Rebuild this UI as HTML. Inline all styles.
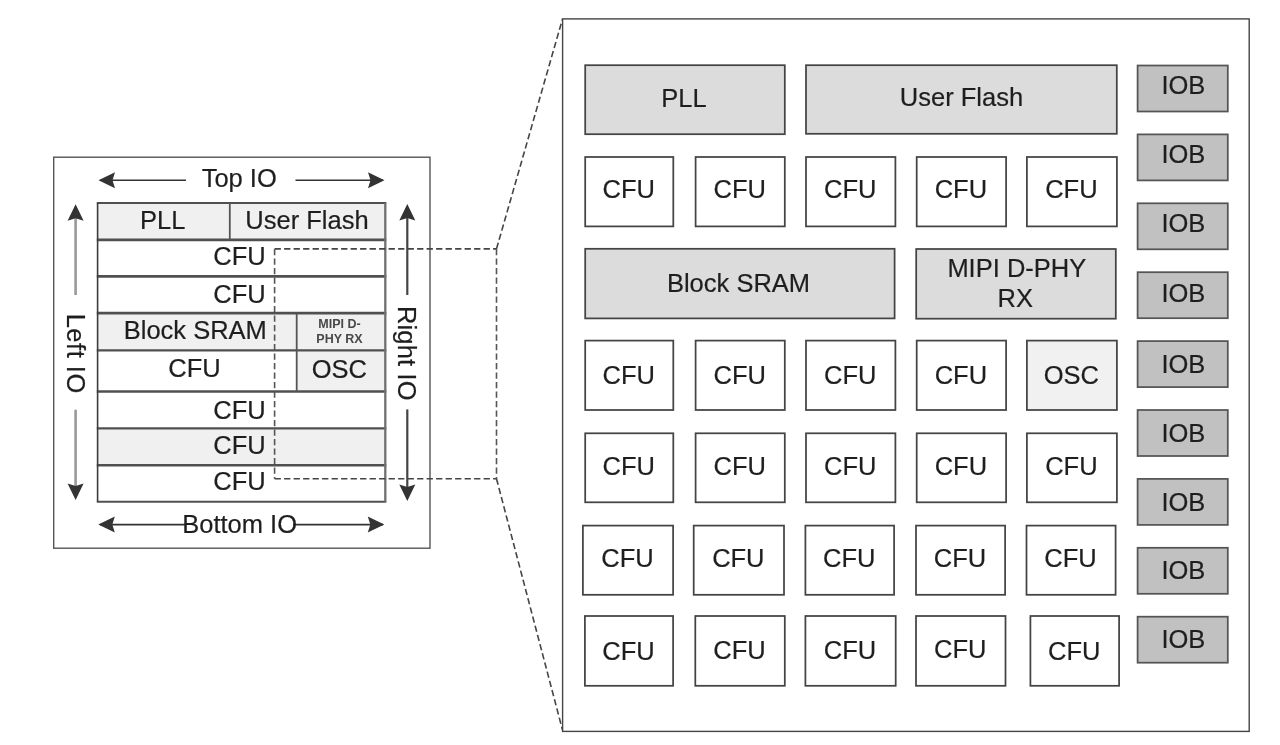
<!DOCTYPE html>
<html><head><meta charset="utf-8"><title>Diagram</title>
<style>
html,body{margin:0;padding:0;background:#fff;}
body{width:1280px;height:745px;overflow:hidden;}
svg{display:block;font-family:"Liberation Sans", sans-serif;will-change:transform;}
</style></head>
<body>
<svg width="1280" height="745" viewBox="0 0 1280 745">
<rect x="0" y="0" width="1280" height="745" fill="#fff"/>
<rect x="53.70" y="157.20" width="376.30" height="391.00" fill="#fff" stroke="#555" stroke-width="1.4"/>
<rect x="97.60" y="202.90" width="287.70" height="37.00" fill="#f0f0f0" stroke="none" stroke-width="0"/>
<rect x="97.60" y="313.10" width="287.70" height="37.20" fill="#f0f0f0" stroke="none" stroke-width="0"/>
<rect x="296.70" y="350.30" width="88.60" height="41.10" fill="#f0f0f0" stroke="none" stroke-width="0"/>
<rect x="97.60" y="428.40" width="287.70" height="36.80" fill="#f0f0f0" stroke="none" stroke-width="0"/>
<line x1="96.80" y1="202.90" x2="386.30" y2="202.90" stroke="#505050" stroke-width="2.0"/>
<line x1="96.80" y1="239.90" x2="386.30" y2="239.90" stroke="#505050" stroke-width="2.8"/>
<line x1="96.80" y1="276.40" x2="386.30" y2="276.40" stroke="#505050" stroke-width="2.6"/>
<line x1="96.80" y1="313.10" x2="386.30" y2="313.10" stroke="#505050" stroke-width="2.8"/>
<line x1="96.80" y1="350.30" x2="386.30" y2="350.30" stroke="#505050" stroke-width="2.2"/>
<line x1="96.80" y1="391.40" x2="386.30" y2="391.40" stroke="#505050" stroke-width="2.5"/>
<line x1="96.80" y1="428.40" x2="386.30" y2="428.40" stroke="#505050" stroke-width="2.4"/>
<line x1="96.80" y1="465.20" x2="386.30" y2="465.20" stroke="#505050" stroke-width="2.4"/>
<line x1="96.80" y1="501.80" x2="386.30" y2="501.80" stroke="#505050" stroke-width="2.0"/>
<line x1="97.60" y1="202.90" x2="97.60" y2="501.80" stroke="#3c3c3c" stroke-width="1.6"/>
<line x1="385.30" y1="202.90" x2="385.30" y2="501.80" stroke="#707070" stroke-width="2.3"/>
<line x1="229.80" y1="202.90" x2="229.80" y2="239.90" stroke="#555" stroke-width="1.8"/>
<line x1="296.70" y1="313.10" x2="296.70" y2="391.40" stroke="#555" stroke-width="1.8"/>
<text x="162.80" y="228.50" font-size="25.5" fill="#1e1e1e" text-anchor="middle" stroke="#1e1e1e" stroke-width="0.2">PLL</text>
<text x="307.00" y="229.00" font-size="25.5" fill="#1e1e1e" text-anchor="middle" stroke="#1e1e1e" stroke-width="0.2">User Flash</text>
<text x="239.50" y="264.80" font-size="25.5" fill="#1e1e1e" text-anchor="middle" stroke="#1e1e1e" stroke-width="0.2">CFU</text>
<text x="239.50" y="302.70" font-size="25.5" fill="#1e1e1e" text-anchor="middle" stroke="#1e1e1e" stroke-width="0.2">CFU</text>
<text x="239.50" y="418.50" font-size="25.5" fill="#1e1e1e" text-anchor="middle" stroke="#1e1e1e" stroke-width="0.2">CFU</text>
<text x="239.50" y="454.20" font-size="25.5" fill="#1e1e1e" text-anchor="middle" stroke="#1e1e1e" stroke-width="0.2">CFU</text>
<text x="239.50" y="490.30" font-size="25.5" fill="#1e1e1e" text-anchor="middle" stroke="#1e1e1e" stroke-width="0.2">CFU</text>
<text x="195.30" y="339.20" font-size="25.5" fill="#1e1e1e" text-anchor="middle" stroke="#1e1e1e" stroke-width="0.2">Block SRAM</text>
<text x="194.50" y="377.30" font-size="25.5" fill="#1e1e1e" text-anchor="middle" stroke="#1e1e1e" stroke-width="0.2">CFU</text>
<text x="339.30" y="378.00" font-size="25.5" fill="#1e1e1e" text-anchor="middle" stroke="#1e1e1e" stroke-width="0.2">OSC</text>
<text x="339.50" y="327.50" font-size="12.5" fill="#484848" text-anchor="middle" font-weight="bold">MIPI D-</text>
<text x="339.50" y="343.30" font-size="12.5" fill="#484848" text-anchor="middle" font-weight="bold">PHY RX</text>
<line x1="100.00" y1="180.20" x2="186.00" y2="180.20" stroke="#333" stroke-width="1.6"/>
<polygon points="98.50,180.20 115.00,188.20 112.50,180.20 115.00,172.20" fill="#333"/>
<line x1="295.50" y1="180.20" x2="383.00" y2="180.20" stroke="#333" stroke-width="1.6"/>
<polygon points="384.50,180.20 368.00,188.20 370.50,180.20 368.00,172.20" fill="#333"/>
<text x="239.20" y="186.60" font-size="25.5" fill="#1e1e1e" text-anchor="middle" stroke="#1e1e1e" stroke-width="0.2">Top IO</text>
<line x1="100.00" y1="524.60" x2="186.00" y2="524.60" stroke="#333" stroke-width="1.6"/>
<polygon points="98.30,524.60 114.80,532.60 112.30,524.60 114.80,516.60" fill="#333"/>
<line x1="293.00" y1="524.60" x2="383.00" y2="524.60" stroke="#333" stroke-width="1.6"/>
<polygon points="384.30,524.60 367.80,532.60 370.30,524.60 367.80,516.60" fill="#333"/>
<text x="239.60" y="532.70" font-size="25.5" fill="#1e1e1e" text-anchor="middle" stroke="#1e1e1e" stroke-width="0.2">Bottom IO</text>
<line x1="75.60" y1="210.00" x2="75.60" y2="295.00" stroke="#999" stroke-width="2.6"/>
<polygon points="75.60,204.30 83.60,220.80 75.60,218.30 67.60,220.80" fill="#333"/>
<line x1="75.60" y1="409.70" x2="75.60" y2="490.00" stroke="#999" stroke-width="2.6"/>
<polygon points="75.60,500.00 83.60,483.50 75.60,486.00 67.60,483.50" fill="#333"/>
<text x="0" y="0" font-size="25.5" fill="#1e1e1e" stroke="#1e1e1e" stroke-width="0.2" letter-spacing="0.5" text-anchor="middle" transform="translate(66.7,353.7) rotate(90)">Left IO</text>
<line x1="407.30" y1="210.00" x2="407.30" y2="295.00" stroke="#444" stroke-width="2.2"/>
<polygon points="407.30,203.90 415.30,220.40 407.30,217.90 399.30,220.40" fill="#333"/>
<line x1="407.30" y1="409.40" x2="407.30" y2="490.00" stroke="#444" stroke-width="2.2"/>
<polygon points="407.30,501.00 415.30,484.50 407.30,487.00 399.30,484.50" fill="#333"/>
<text x="0" y="0" font-size="25.5" fill="#1e1e1e" stroke="#1e1e1e" stroke-width="0.2" letter-spacing="0.15" text-anchor="middle" transform="translate(398.4,353.3) rotate(90)">Right IO</text>
<line x1="274.60" y1="248.90" x2="496.50" y2="248.90" stroke="#454545" stroke-width="1.6" stroke-dasharray="6.3,3.2"/>
<line x1="274.60" y1="478.70" x2="496.50" y2="478.70" stroke="#454545" stroke-width="1.6" stroke-dasharray="6.3,3.2"/>
<line x1="274.60" y1="248.90" x2="274.60" y2="478.70" stroke="#555" stroke-width="1.6" stroke-dasharray="6.3,3.2"/>
<line x1="496.50" y1="248.90" x2="496.50" y2="478.70" stroke="#555" stroke-width="1.6" stroke-dasharray="6.3,3.2"/>
<line x1="496.50" y1="248.90" x2="562.50" y2="19.00" stroke="#454545" stroke-width="1.6" stroke-dasharray="6.3,3.2"/>
<line x1="496.50" y1="478.70" x2="562.50" y2="730.00" stroke="#454545" stroke-width="1.6" stroke-dasharray="6.3,3.2"/>
<rect x="562.60" y="18.90" width="686.60" height="712.50" fill="#fff" stroke="#444" stroke-width="1.4"/>
<rect x="585.20" y="65.20" width="199.60" height="69.00" fill="#dcdcdc" stroke="#444" stroke-width="1.75"/>
<text x="684.00" y="106.60" font-size="25.5" fill="#1e1e1e" text-anchor="middle" stroke="#1e1e1e" stroke-width="0.2">PLL</text>
<rect x="806.00" y="65.20" width="310.80" height="68.60" fill="#dcdcdc" stroke="#444" stroke-width="1.75"/>
<text x="961.50" y="106.30" font-size="25.5" fill="#1e1e1e" text-anchor="middle" stroke="#1e1e1e" stroke-width="0.2">User Flash</text>
<rect x="585.20" y="157.00" width="88.10" height="69.40" fill="#fff" stroke="#444" stroke-width="1.75"/>
<text x="628.75" y="197.70" font-size="25.5" fill="#1e1e1e" text-anchor="middle" stroke="#1e1e1e" stroke-width="0.2">CFU</text>
<rect x="695.60" y="157.00" width="89.20" height="69.40" fill="#fff" stroke="#444" stroke-width="1.75"/>
<text x="739.70" y="197.70" font-size="25.5" fill="#1e1e1e" text-anchor="middle" stroke="#1e1e1e" stroke-width="0.2">CFU</text>
<rect x="806.00" y="157.00" width="89.40" height="69.40" fill="#fff" stroke="#444" stroke-width="1.75"/>
<text x="850.20" y="197.70" font-size="25.5" fill="#1e1e1e" text-anchor="middle" stroke="#1e1e1e" stroke-width="0.2">CFU</text>
<rect x="916.70" y="157.00" width="89.40" height="69.40" fill="#fff" stroke="#444" stroke-width="1.75"/>
<text x="960.90" y="197.70" font-size="25.5" fill="#1e1e1e" text-anchor="middle" stroke="#1e1e1e" stroke-width="0.2">CFU</text>
<rect x="1026.90" y="157.00" width="90.00" height="69.40" fill="#fff" stroke="#444" stroke-width="1.75"/>
<text x="1071.40" y="197.70" font-size="25.5" fill="#1e1e1e" text-anchor="middle" stroke="#1e1e1e" stroke-width="0.2">CFU</text>
<rect x="585.20" y="248.80" width="309.40" height="69.60" fill="#dcdcdc" stroke="#444" stroke-width="1.75"/>
<text x="738.50" y="291.90" font-size="25.5" fill="#1e1e1e" text-anchor="middle" stroke="#1e1e1e" stroke-width="0.2">Block SRAM</text>
<rect x="916.20" y="249.00" width="199.60" height="69.70" fill="#dcdcdc" stroke="#444" stroke-width="1.75"/>
<text x="1016.80" y="276.60" font-size="25.5" fill="#1e1e1e" text-anchor="middle" stroke="#1e1e1e" stroke-width="0.2">MIPI D-PHY</text>
<text x="1015.30" y="306.50" font-size="25.5" fill="#1e1e1e" text-anchor="middle" stroke="#1e1e1e" stroke-width="0.2">RX</text>
<rect x="585.20" y="340.60" width="88.10" height="69.40" fill="#fff" stroke="#444" stroke-width="1.75"/>
<text x="628.75" y="383.50" font-size="25.5" fill="#1e1e1e" text-anchor="middle" stroke="#1e1e1e" stroke-width="0.2">CFU</text>
<rect x="695.60" y="340.60" width="89.20" height="69.40" fill="#fff" stroke="#444" stroke-width="1.75"/>
<text x="739.70" y="383.50" font-size="25.5" fill="#1e1e1e" text-anchor="middle" stroke="#1e1e1e" stroke-width="0.2">CFU</text>
<rect x="806.00" y="340.60" width="89.40" height="69.40" fill="#fff" stroke="#444" stroke-width="1.75"/>
<text x="850.20" y="383.50" font-size="25.5" fill="#1e1e1e" text-anchor="middle" stroke="#1e1e1e" stroke-width="0.2">CFU</text>
<rect x="916.70" y="340.60" width="89.40" height="69.40" fill="#fff" stroke="#444" stroke-width="1.75"/>
<text x="960.90" y="383.50" font-size="25.5" fill="#1e1e1e" text-anchor="middle" stroke="#1e1e1e" stroke-width="0.2">CFU</text>
<rect x="1026.90" y="340.60" width="90.00" height="69.40" fill="#f1f1f1" stroke="#444" stroke-width="1.75"/>
<text x="1071.40" y="383.50" font-size="25.5" fill="#1e1e1e" text-anchor="middle" stroke="#1e1e1e" stroke-width="0.2">OSC</text>
<rect x="585.20" y="433.30" width="88.10" height="69.00" fill="#fff" stroke="#444" stroke-width="1.75"/>
<text x="628.75" y="474.70" font-size="25.5" fill="#1e1e1e" text-anchor="middle" stroke="#1e1e1e" stroke-width="0.2">CFU</text>
<rect x="695.60" y="433.30" width="89.20" height="69.00" fill="#fff" stroke="#444" stroke-width="1.75"/>
<text x="739.70" y="474.70" font-size="25.5" fill="#1e1e1e" text-anchor="middle" stroke="#1e1e1e" stroke-width="0.2">CFU</text>
<rect x="806.00" y="433.30" width="89.40" height="69.00" fill="#fff" stroke="#444" stroke-width="1.75"/>
<text x="850.20" y="474.70" font-size="25.5" fill="#1e1e1e" text-anchor="middle" stroke="#1e1e1e" stroke-width="0.2">CFU</text>
<rect x="916.70" y="433.30" width="89.40" height="69.00" fill="#fff" stroke="#444" stroke-width="1.75"/>
<text x="960.90" y="474.70" font-size="25.5" fill="#1e1e1e" text-anchor="middle" stroke="#1e1e1e" stroke-width="0.2">CFU</text>
<rect x="1026.90" y="433.30" width="90.00" height="69.00" fill="#fff" stroke="#444" stroke-width="1.75"/>
<text x="1071.40" y="474.70" font-size="25.5" fill="#1e1e1e" text-anchor="middle" stroke="#1e1e1e" stroke-width="0.2">CFU</text>
<rect x="582.90" y="525.60" width="90.20" height="69.20" fill="#fff" stroke="#444" stroke-width="1.75"/>
<text x="627.50" y="567.40" font-size="25.5" fill="#1e1e1e" text-anchor="middle" stroke="#1e1e1e" stroke-width="0.2">CFU</text>
<rect x="693.70" y="525.60" width="90.30" height="69.20" fill="#fff" stroke="#444" stroke-width="1.75"/>
<text x="738.35" y="567.40" font-size="25.5" fill="#1e1e1e" text-anchor="middle" stroke="#1e1e1e" stroke-width="0.2">CFU</text>
<rect x="805.40" y="525.60" width="88.70" height="69.20" fill="#fff" stroke="#444" stroke-width="1.75"/>
<text x="849.25" y="567.40" font-size="25.5" fill="#1e1e1e" text-anchor="middle" stroke="#1e1e1e" stroke-width="0.2">CFU</text>
<rect x="916.00" y="525.60" width="89.10" height="69.20" fill="#fff" stroke="#444" stroke-width="1.75"/>
<text x="960.05" y="567.40" font-size="25.5" fill="#1e1e1e" text-anchor="middle" stroke="#1e1e1e" stroke-width="0.2">CFU</text>
<rect x="1026.50" y="525.60" width="89.10" height="69.20" fill="#fff" stroke="#444" stroke-width="1.75"/>
<text x="1070.55" y="567.40" font-size="25.5" fill="#1e1e1e" text-anchor="middle" stroke="#1e1e1e" stroke-width="0.2">CFU</text>
<rect x="584.90" y="616.00" width="88.20" height="69.80" fill="#fff" stroke="#444" stroke-width="1.75"/>
<text x="628.50" y="659.70" font-size="25.5" fill="#1e1e1e" text-anchor="middle" stroke="#1e1e1e" stroke-width="0.2">CFU</text>
<rect x="695.30" y="616.00" width="89.50" height="69.80" fill="#fff" stroke="#444" stroke-width="1.75"/>
<text x="739.55" y="659.00" font-size="25.5" fill="#1e1e1e" text-anchor="middle" stroke="#1e1e1e" stroke-width="0.2">CFU</text>
<rect x="805.40" y="616.00" width="90.30" height="69.80" fill="#fff" stroke="#444" stroke-width="1.75"/>
<text x="850.05" y="658.50" font-size="25.5" fill="#1e1e1e" text-anchor="middle" stroke="#1e1e1e" stroke-width="0.2">CFU</text>
<rect x="916.00" y="616.00" width="89.50" height="69.80" fill="#fff" stroke="#444" stroke-width="1.75"/>
<text x="960.25" y="658.00" font-size="25.5" fill="#1e1e1e" text-anchor="middle" stroke="#1e1e1e" stroke-width="0.2">CFU</text>
<rect x="1030.40" y="616.00" width="88.70" height="69.80" fill="#fff" stroke="#444" stroke-width="1.75"/>
<text x="1074.25" y="659.60" font-size="25.5" fill="#1e1e1e" text-anchor="middle" stroke="#1e1e1e" stroke-width="0.2">CFU</text>
<rect x="1137.60" y="65.50" width="90.20" height="46.00" fill="#c1c1c1" stroke="#555" stroke-width="1.75"/>
<text x="1183.40" y="94.10" font-size="25.5" fill="#1e1e1e" text-anchor="middle" stroke="#1e1e1e" stroke-width="0.2">IOB</text>
<rect x="1137.60" y="134.40" width="90.20" height="46.00" fill="#c1c1c1" stroke="#555" stroke-width="1.75"/>
<text x="1183.40" y="163.40" font-size="25.5" fill="#1e1e1e" text-anchor="middle" stroke="#1e1e1e" stroke-width="0.2">IOB</text>
<rect x="1137.60" y="203.30" width="90.20" height="46.00" fill="#c1c1c1" stroke="#555" stroke-width="1.75"/>
<text x="1183.40" y="232.10" font-size="25.5" fill="#1e1e1e" text-anchor="middle" stroke="#1e1e1e" stroke-width="0.2">IOB</text>
<rect x="1137.60" y="272.20" width="90.20" height="46.00" fill="#c1c1c1" stroke="#555" stroke-width="1.75"/>
<text x="1183.40" y="302.40" font-size="25.5" fill="#1e1e1e" text-anchor="middle" stroke="#1e1e1e" stroke-width="0.2">IOB</text>
<rect x="1137.60" y="341.10" width="90.20" height="46.00" fill="#c1c1c1" stroke="#555" stroke-width="1.75"/>
<text x="1183.40" y="373.00" font-size="25.5" fill="#1e1e1e" text-anchor="middle" stroke="#1e1e1e" stroke-width="0.2">IOB</text>
<rect x="1137.60" y="410.00" width="90.20" height="46.00" fill="#c1c1c1" stroke="#555" stroke-width="1.75"/>
<text x="1183.40" y="441.70" font-size="25.5" fill="#1e1e1e" text-anchor="middle" stroke="#1e1e1e" stroke-width="0.2">IOB</text>
<rect x="1137.60" y="478.90" width="90.20" height="46.00" fill="#c1c1c1" stroke="#555" stroke-width="1.75"/>
<text x="1183.40" y="510.90" font-size="25.5" fill="#1e1e1e" text-anchor="middle" stroke="#1e1e1e" stroke-width="0.2">IOB</text>
<rect x="1137.60" y="547.80" width="90.20" height="46.00" fill="#c1c1c1" stroke="#555" stroke-width="1.75"/>
<text x="1183.40" y="578.70" font-size="25.5" fill="#1e1e1e" text-anchor="middle" stroke="#1e1e1e" stroke-width="0.2">IOB</text>
<rect x="1137.60" y="616.70" width="90.20" height="46.00" fill="#c1c1c1" stroke="#555" stroke-width="1.75"/>
<text x="1183.40" y="647.60" font-size="25.5" fill="#1e1e1e" text-anchor="middle" stroke="#1e1e1e" stroke-width="0.2">IOB</text>
</svg>
</body></html>
